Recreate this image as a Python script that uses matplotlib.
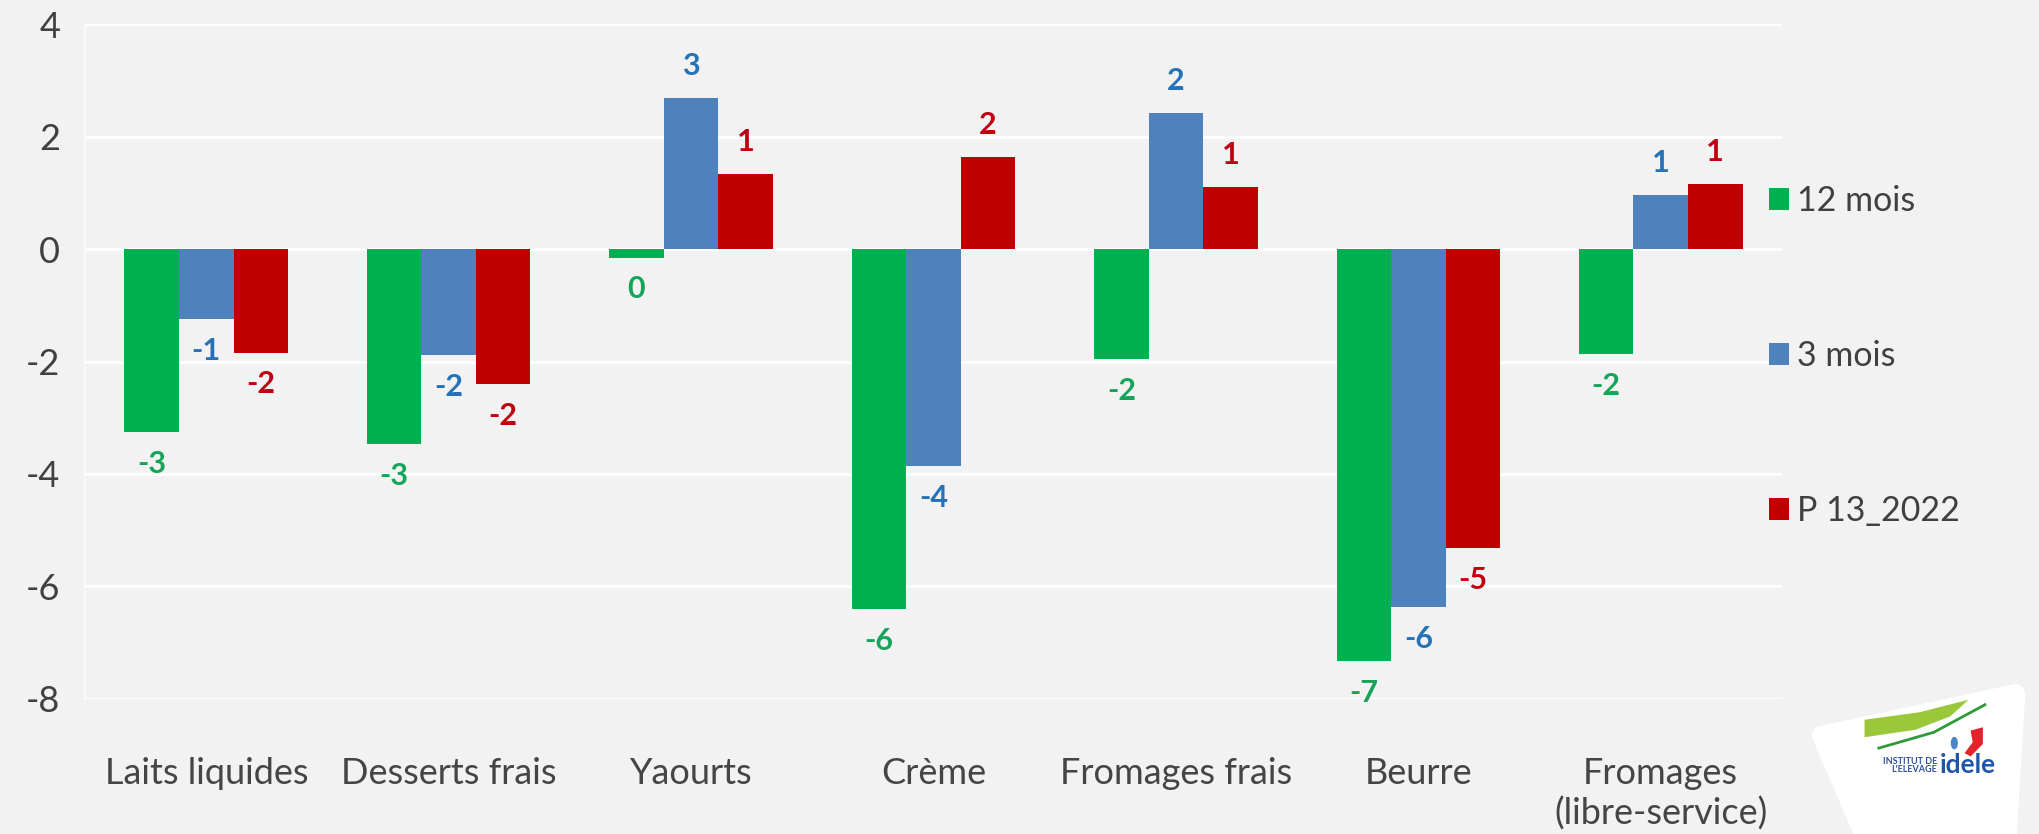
import matplotlib
matplotlib.use("Agg")
import matplotlib.pyplot as plt
import numpy as np
from matplotlib.patches import Polygon, Ellipse
from matplotlib.lines import Line2D

categories = ["Laits liquides", "Desserts frais", "Yaourts", "Crème",
              "Fromages frais", "Beurre", "Fromages\n(libre-service)"]
series_names = ["12 mois", "3 mois", "P 13_2022"]
v_12mois = [-3.26, -3.47, -0.15, -6.40, -1.95, -7.33, -1.87]
v_3mois = [-1.25, -1.89, 2.69, -3.85, 2.42, -6.37, 0.97]
v_p13 = [-1.84, -2.40, 1.33, 1.64, 1.10, -5.31, 1.16]
yticks = [4, 2, 0, -2, -4, -6, -8]

bar_colors = ["#00B050", "#4F81BD", "#C00000"]
label_colors = ["#16A458", "#2672B8", "#C00010"]
BG = "#F2F2F2"
FONT = "Lato"

fig = plt.figure(figsize=(20.4, 8.34), dpi=100, facecolor=BG)
ax = fig.add_axes([0.0417, 0.162, 0.8318, 0.809])
ax.set_facecolor(BG)

x = np.arange(len(categories))
w = 0.225
series = [v_12mois, v_3mois, v_p13]
handles = []
for i, (vals, name) in enumerate(zip(series, series_names)):
    pos = x + (i - 1) * w
    b = ax.bar(pos, vals, width=w, color=bar_colors[i], label=name, zorder=3)
    handles.append(b)
    for px, v in zip(pos, vals):
        off = 23 if v >= 0 else -23
        ax.annotate(f"{round(v):.0f}", (px, v), xytext=(0, off),
                    textcoords="offset points", ha="center", va="center",
                    fontsize=22, fontweight="bold", color=label_colors[i],
                    family=FONT, zorder=4)

ax.set_xlim(-0.5, len(categories) - 0.5)
ax.set_ylim(-8, 4)
ax.set_yticks(yticks)
ax.set_yticklabels([str(t) for t in yticks], fontsize=26, color="#404040", family=FONT)
ax.set_xticks(x)
ax.set_xticklabels(categories, fontsize=26, color="#454545", family=FONT, linespacing=1.22)
ax.tick_params(axis="y", length=0, pad=18)
ax.tick_params(axis="x", length=0, pad=42)
for t in ax.get_xticklabels():
    t.set_verticalalignment("top")
ax.yaxis.grid(True, color="#FFFFFF", linewidth=2, zorder=0)
for s in ["top", "right", "bottom"]:
    ax.spines[s].set_visible(False)
ax.spines["left"].set_color("#FAFAFA")
ax.spines["left"].set_linewidth(1.5)

leg = fig.legend(handles=handles, labels=series_names, loc="upper left",
                 bbox_to_anchor=(0.852, 0.815), frameon=False,
                 prop={"family": FONT, "size": 24.5}, labelcolor="#404040",
                 handlelength=0.6, handleheight=0.6, handletextpad=0.22,
                 labelspacing=3.62)

# logo approximation
logo = Polygon([[0.893, 0.118], [0.988, 0.168], [0.984, 0.004], [0.913, 0.004]],
               closed=True, transform=fig.transFigure, facecolor="white",
               edgecolor="white", linewidth=14, joinstyle="round", zorder=1)
fig.patches.append(logo)
lime = Polygon([[0.914, 0.137], [0.941, 0.146], [0.965, 0.161], [0.956, 0.141],
                [0.939, 0.125], [0.914, 0.116]],
               closed=True, transform=fig.transFigure, facecolor="#9BC83B",
               edgecolor="none", zorder=2)
fig.patches.append(lime)
fig.lines.append(Line2D([0.921, 0.948, 0.973], [0.103, 0.122, 0.155],
                        transform=fig.transFigure, color="#2E9A3A", linewidth=2, zorder=2))
red = Polygon([[0.966, 0.124], [0.972, 0.128], [0.972, 0.108], [0.966, 0.093],
               [0.963, 0.097], [0.967, 0.110]],
              closed=True, transform=fig.transFigure, facecolor="#E3232C",
              edgecolor="none", zorder=2)
fig.patches.append(red)
fig.patches.append(Ellipse((0.958, 0.109), 0.0035, 0.015, transform=fig.transFigure,
                           facecolor="#4A86C8", edgecolor="none", zorder=2))
fig.text(0.9495, 0.082, "INSTITUT DE\nL'ELEVAGE", fontsize=6.5, color="#2a4f9c",
         fontweight="bold", family=FONT, ha="right", va="center", linespacing=0.95)
fig.text(0.951, 0.083, "idele", fontsize=19, color="#1f56a8",
         fontweight="bold", family=FONT, ha="left", va="center")

fig.savefig("out.png", dpi=100, facecolor=BG)
